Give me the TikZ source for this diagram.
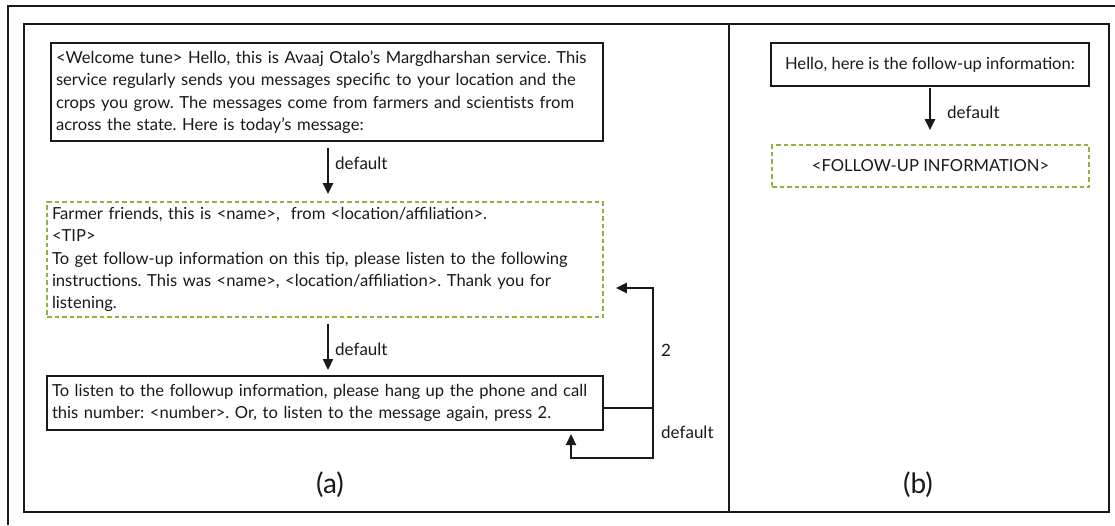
\documentclass[tikz,border=0pt]{standalone}
\usepackage{fontspec}
\setmainfont{Lato}
\usetikzlibrary{arrows.meta,calc}
\definecolor{ink}{RGB}{25,25,25}
\definecolor{dgreen}{RGB}{140,180,60}
\frenchspacing
\begin{document}
\begin{tikzpicture}[x=1pt,y=-1pt,
  txt/.style={font=\fontsize{16.6}{22.4}\selectfont, text=ink},
  solidbox/.style={draw=ink, line width=2pt, rectangle, inner sep=5pt, align=left},
  dashbox/.style={draw=dgreen, line width=1.7pt, dash pattern=on 4.5pt off 3pt, rectangle, inner sep=5pt, align=left},
  arr/.style={draw=ink, line width=2.2pt, -{Triangle[width=10pt,length=11pt]}},
  lbl/.style={font=\fontsize{17}{20}\selectfont, text=ink, anchor=west, inner sep=0pt},
  captxt/.style={font=\fontsize{28}{32}\selectfont, text=ink, inner sep=0pt}]
\useasboundingbox (0,0) rectangle (1115,525);
% frames
\draw[ink, line width=2.5pt] (8,525) -- (8,6) -- (1115,6);
\draw[ink, line width=2.5pt] (24,24) rectangle (1109,512);
\draw[ink, line width=2.5pt] (729,24) -- (729,512);
% panel (a)
\node[solidbox, txt, minimum width=552pt, minimum height=98pt, text width=542pt] (b1) at (327,92)
 {<Welcome tune> Hello, this is Avaaj Otalo's Margdharshan service. This\\
  service regularly sends you messages specific to your location and the\\
  crops you grow. The messages come from farmers and scientists from\\
  across the state. Here is today's message:};
\node[dashbox, txt, minimum width=556pt, minimum height=115pt, text width=546pt] (b2) at (325,259.5)
 {Farmer friends, this is <name>, \ from <location/affiliation>.\\
  <TIP>\\
  To get follow-up information on this tip, please listen to the following\\
  instructions. This was <name>, <location/affiliation>. Thank you for\\
  listening.};
\node[solidbox, txt, minimum width=556pt, minimum height=54pt, text width=546pt] (b3) at (325,403)
 {To listen to the followup information, please hang up the phone and call\\
  this number: <number>. Or, to listen to the message again, press 2.};
\draw[arr, shorten <=6pt, shorten >=7pt] (328,0 |- b1.south) -- (328,0 |- b2.north);
\node[lbl] (d1) at (335,163) {default};
\draw[arr, shorten <=6pt, shorten >=5pt] (328,0 |- b2.south) -- (328,0 |- b3.north);
\node[lbl] (d2) at (335,349) {default};
\coordinate (j) at (653,408);
\coordinate (jt) at (653,288);
\coordinate (jb) at (653,458);
\coordinate (lb) at (571,458);
\draw[ink, line width=2.2pt] (j -| b3.east) -- (j);
\draw[arr, shorten >=12pt] (j) -- (jt) -- (jt -| b2.east);
\draw[arr, shorten >=3pt, line join=miter] (j) -- (jb) -- (lb) -- (lb |- b3.south);
\node[lbl] (two) at (661,350) {2};
\node[lbl] (d3) at (661,432) {default};
\node[captxt] (ca) at (330,485) {(a)};
% panel (b)
\node[solidbox, txt, minimum width=318pt, minimum height=43pt, align=center] (b4) at (930,64.5)
 {Hello, here is the follow-up information:};
\node[dashbox, txt, minimum width=317pt, minimum height=42pt, align=center] (b5) at (930.5,166)
 {<FOLLOW-UP INFORMATION>};
\draw[arr, shorten <=1pt, shorten >=14pt] (b4.south) -- (b4.south |- b5.north);
\node[lbl] (d4) at (947,112) {default};
\node[captxt] (cb) at (918,485) {(b)};
\end{tikzpicture}
\end{document}
